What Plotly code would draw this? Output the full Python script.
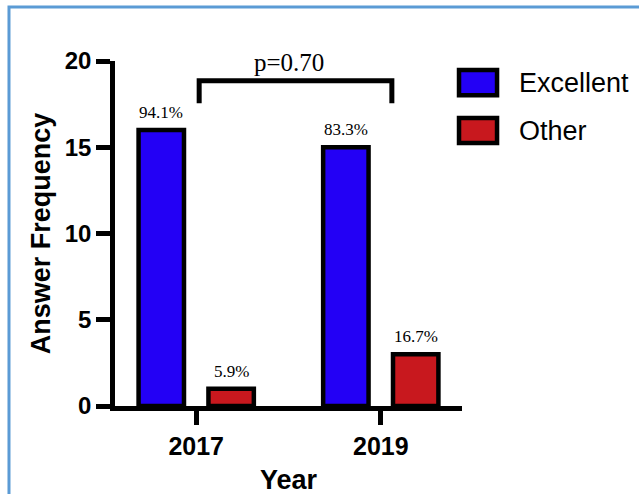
import plotly.graph_objects as go

# ---- data ----
years = ["2017", "2019"]
excellent = [16, 15]
other = [1, 3]
excellent_pct = ["94.1%", "83.3%"]
other_pct = ["5.9%", "16.7%"]
y_ticks = [0, 5, 10, 15, 20]
p_text = "p=0.70"
bracket_x = [0.016, 1.06]
bracket_top = 18.85
bracket_leg = 17.55
series_names = ["Excellent", "Other"]
x_title = "Year"
y_title = "Answer Frequency"

BLUE = "#2300F5"
RED = "#C8181E"
SANS = "Liberation Sans"
SERIF = "Liberation Serif"
BARGAP = 0.243
BARGROUPGAP = 0.35

fig = go.Figure()
fig.add_trace(go.Bar(
    x=years, y=excellent, name=series_names[0],
    marker=dict(color=BLUE, line=dict(color="black", width=4.5)),
))
fig.add_trace(go.Bar(
    x=years, y=other, name=series_names[1],
    marker=dict(color=RED, line=dict(color="black", width=4.5)),
))

shapes = []
annotations = []
# light blue frame around the figure
shapes.append(dict(type="rect", xref="paper", yref="paper",
                   x0=-0.3055, y0=-2, x1=3, y1=1.1565,
                   line=dict(color="#5B9BD5", width=3), fillcolor="rgba(0,0,0,0)",
                   layer="below"))
# significance bracket
shapes.append(dict(type="path", xref="x", yref="y",
                   path=f"M {bracket_x[0]},{bracket_leg} L {bracket_x[0]},{bracket_top} "
                        f"L {bracket_x[1]},{bracket_top} L {bracket_x[1]},{bracket_leg}",
                   line=dict(color="black", width=5)))

# percentage labels above bars (group slot offsets derived from bargap)
slot = (1 - BARGAP) / 2
for k, (vals, labels) in enumerate([(excellent, excellent_pct), (other, other_pct)]):
    off = (k - 0.5) * slot
    for i, (v, lab) in enumerate(zip(vals, labels)):
        annotations.append(dict(xref="x", yref="y", x=i + off, y=v, text=lab,
                                showarrow=False, xanchor="center", yanchor="bottom",
                                yshift=6,
                                font=dict(family=SERIF, size=17, color="black")))

# custom legend boxes
leg_colors = [BLUE, RED]
leg_y = [(0.974, 0.901), (0.835, 0.762)]
for name, col, (ytop, ybot) in zip(series_names, leg_colors, leg_y):
    shapes.append(dict(type="rect", xref="paper", yref="paper",
                       x0=0.9914, x1=1.101, y0=ybot, y1=ytop,
                       fillcolor=col, line=dict(color="black", width=4.5)))
    annotations.append(dict(xref="paper", yref="paper", x=1.158, y=(ytop + ybot) / 2,
                            text=name, showarrow=False, xanchor="left", yanchor="middle",
                            font=dict(family=SANS, size=27, color="black")))

annotations.append(dict(xref="x", yref="y", x=0.5, y=19.9, text=p_text, showarrow=False,
                        xanchor="center", yanchor="middle",
                        font=dict(family=SERIF, size=25, color="black")))

# x-axis title (placed low, near the bottom edge like the original)
annotations.append(dict(xref="paper", yref="paper", x=0.5, y=0, text=x_title,
                        showarrow=False, xanchor="center", yanchor="top", yshift=-57,
                        font=dict(family=SANS, size=27, color="black", weight="bold")))

fig.update_layout(
    width=639, height=494,
    margin=dict(l=115, r=177, t=61, b=88),
    paper_bgcolor="white", plot_bgcolor="white",
    barmode="group", bargap=BARGAP, bargroupgap=BARGROUPGAP,
    showlegend=False,
    shapes=shapes, annotations=annotations,
    xaxis=dict(
        type="category", range=[-0.44, 1.44],
        showline=True, linecolor="black", linewidth=4.5,
        ticks="outside", ticklen=14, tickwidth=4.5, tickcolor="black",
        tickfont=dict(family=SANS, size=25, color="black", weight="bold"),
        showgrid=False, zeroline=False,
        automargin=False,
    ),
    yaxis=dict(
        range=[0, 20], tickvals=y_ticks,
        showline=True, linecolor="black", linewidth=4.5,
        ticks="outside", ticklen=14, tickwidth=4.5, tickcolor="black",
        tickfont=dict(family=SANS, size=24, color="black", weight="bold"),
        showgrid=False, zeroline=False,
        title=dict(text=y_title, standoff=8,
                   font=dict(family=SANS, size=27, color="black", weight="bold")),
        automargin=True,
    ),
)

fig.write_html("out.html")
